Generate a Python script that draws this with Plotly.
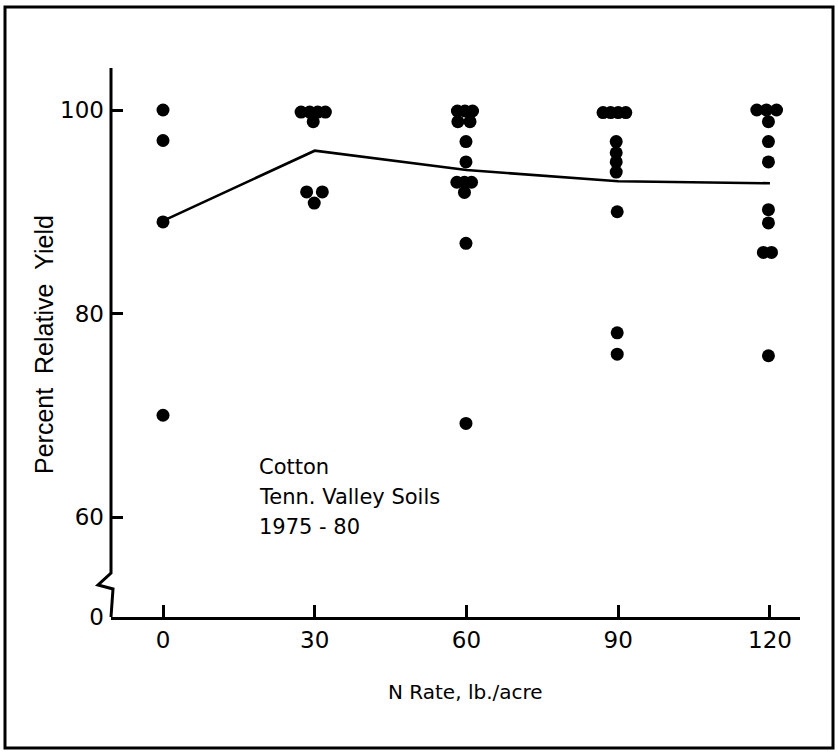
import plotly.graph_objects as go

# ---- data ----
n_rate_x = [0, 0, 0, 0,
            27.3, 29.0, 30.6, 32.1, 29.7, 28.4, 31.5, 29.9,
            58.2, 59.7, 61.2, 58.3, 60.7, 59.9, 59.9, 58.1, 59.6, 61.0, 59.6, 59.9, 59.9,
            87.0, 88.5, 90.0, 91.5, 89.6, 89.6, 89.6, 89.6, 89.8, 89.8, 89.8,
            117.4, 119.3, 121.3, 119.7, 119.7, 119.7, 119.7, 119.7, 118.7, 120.3, 119.7]
rel_yield = [100, 97, 89, 70,
             99.8, 99.8, 99.8, 99.8, 98.85, 91.95, 91.95, 90.85,
             99.9, 99.9, 99.9, 98.85, 98.85, 96.9, 94.9, 92.9, 92.9, 92.9, 91.9, 86.9, 69.2,
             99.75, 99.75, 99.75, 99.75, 96.9, 95.8, 94.9, 93.9, 90.0, 78.1, 76.0,
             100, 100, 100, 98.85, 96.9, 94.9, 90.2, 88.9, 86.0, 86.0, 75.85]

mean_x = [0, 30, 60, 90, 120]
mean_yield = [89.1, 96.0, 94.1, 93.0, 92.8]

x_ticks = [0, 30, 60, 90, 120]
y_tickvals = [50.17, 60, 80, 100]
y_ticktext = ["0", "60", "80", "100"]

note_lines = ["Cotton", "Tenn. Valley Soils", "1975 - 80"]

# ---- layout geometry (pixels) ----
W, H = 838, 754
L, R, T, B = 111, 800, 68, 617
pw, ph = R - L, B - T


def px(xp):
    return (xp - L) / pw


def py(yp):
    return (B - yp) / ph


FONT = "Liberation Sans, Arial, sans-serif"
WIDE = "DejaVu Sans, sans-serif"

fig = go.Figure()
fig.add_trace(go.Scatter(x=mean_x, y=mean_yield, mode="lines",
                         line=dict(color="black", width=2.6),
                         hoverinfo="skip", showlegend=False))
fig.add_trace(go.Scatter(x=n_rate_x, y=rel_yield, mode="markers",
                         marker=dict(color="black", size=13),
                         showlegend=False, cliponaxis=False))

shapes = [
    # broken y axis
    dict(type="path", xref="paper", yref="paper",
         path=f"M {px(L)},{py(T)} L {px(L)},{py(573)} L {px(98)},{py(585)} "
              f"L {px(113)},{py(589)} L {px(L)},{py(B)}",
         line=dict(color="black", width=3)),
    # outer frame
    dict(type="rect", xref="paper", yref="paper",
         x0=px(5), x1=px(833), y0=py(748), y1=py(7),
         line=dict(color="black", width=3)),
]

annotations = []
for i, t in enumerate(note_lines):
    annotations.append(dict(xref="paper", yref="paper", x=px(257), y=py(467 + 30 * i),
                            xanchor="left", yanchor="middle", text=t, showarrow=False,
                            font=dict(family=WIDE, size=21, color="black")))
annotations.append(dict(xref="paper", yref="paper", x=px(465), y=py(692),
                        xanchor="center", yanchor="middle", text="N Rate, lb./acre",
                        showarrow=False, font=dict(family=WIDE, size=20, color="black")))
annotations.append(dict(xref="paper", yref="paper", x=px(44), y=py(345),
                        xanchor="center", yanchor="middle",
                        text="Percent\u00a0\u00a0Relative\u00a0\u00a0Yield",
                        textangle=-90, showarrow=False,
                        font=dict(family=FONT, size=25, color="black")))

x_lo = (L - 163) / 5.058
x_hi = (R - 163) / 5.058
y_lo = 100 - (B - 110) / 10.175
y_hi = 100 + (110 - T) / 10.175

fig.update_layout(
    width=W, height=H,
    margin=dict(l=L, r=W - R, t=T, b=H - B),
    paper_bgcolor="white", plot_bgcolor="white",
    shapes=shapes, annotations=annotations,
    font=dict(family=WIDE, color="black"),
    xaxis=dict(range=[x_lo, x_hi], tickvals=x_ticks, ticks="inside", ticklen=12,
               tickwidth=2.5, tickcolor="black", showline=True, linecolor="black",
               linewidth=3, showgrid=False, zeroline=False,
               tickfont=dict(family=WIDE, size=23, color="black"), ticklabelstandoff=0),
    yaxis=dict(range=[y_lo, y_hi], tickvals=y_tickvals, ticktext=y_ticktext,
               ticks="inside", ticklen=12, tickwidth=2.5, tickcolor="black",
               showline=False, showgrid=False, zeroline=False,
               tickfont=dict(family=WIDE, size=23, color="black"), ticklabelstandoff=6),
)

fig.write_html("out.html")
